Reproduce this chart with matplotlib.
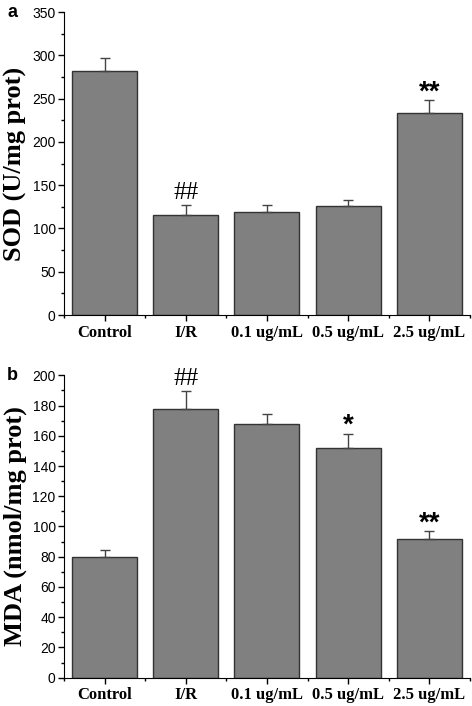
import numpy as np
import matplotlib
matplotlib.use('Agg')
import matplotlib.pyplot as plt
from matplotlib.ticker import MultipleLocator

# data
groups = ['Control', 'I/R', '0.1 ug/mL', '0.5 ug/mL', '2.5 ug/mL']
sod = [282, 115, 119, 126, 233]
sod_err = [15, 12, 7.5, 6.5, 15]
sod_marks = ['', '##', '', '', '**']
mda = [80, 177.5, 168, 152, 92]
mda_err = [4.5, 12, 6.6, 9.5, 5]
mda_marks = ['', '##', '', '*', '**']

SANS = 'Liberation Sans'
SERIF = 'Liberation Serif'

fig = plt.figure(figsize=(4.72, 7.06), dpi=100)
ax_a = fig.add_axes([0.1356, 0.5538, 0.860, 0.4292])
ax_b = fig.add_axes([0.1356, 0.0401, 0.860, 0.4283])


def panel(ax, vals, errs, marks, ymax, major, minor, ylabel, letter):
    x = np.arange(1, len(groups) + 1)
    ax.bar(x, vals, width=0.8, color='#808080', edgecolor='#333333',
           linewidth=1.0, zorder=2)
    ax.errorbar(x, vals, yerr=[np.zeros(len(errs)), errs], fmt='none',
                ecolor='#444444', elinewidth=1.0, capsize=3.5,
                capthick=1.0, zorder=3)
    for xi, v, e, m in zip(x, vals, errs, marks):
        if not m:
            continue
        if m.startswith('#'):
            ax.text(xi, v + e + ymax * 0.003, m, ha='center', va='bottom',
                    fontsize=18, family=SERIF)
        else:
            ax.text(xi, v + e - ymax * 0.018, m, ha='center', va='bottom',
                    fontsize=20, family=SANS, fontweight='bold')
    ax.set_xlim(0.5, 5.5)
    ax.set_ylim(0, ymax)
    ax.yaxis.set_major_locator(MultipleLocator(major))
    ax.yaxis.set_minor_locator(MultipleLocator(minor))
    ax.set_xticks(x)
    ax.set_xticks(np.arange(0.5, 5.6, 1.0), minor=True)
    ax.set_xticklabels(groups, family=SERIF, fontweight='bold', fontsize=12)
    for lab in ax.get_yticklabels():
        lab.set_family(SANS)
        lab.set_fontsize(10)
    ax.tick_params(axis='both', which='major', direction='out', length=4,
                   width=1, pad=2)
    ax.tick_params(axis='both', which='minor', direction='out', length=2.5,
                   width=1)
    ax.tick_params(axis='x', which='major', pad=3)
    ax.spines['top'].set_visible(False)
    ax.spines['right'].set_visible(False)
    ax.set_ylabel(ylabel, family=SERIF, fontweight='bold', fontsize=19,
                  labelpad=4)
    ax.text(-0.14, 1.0, letter, transform=ax.transAxes, ha='left',
            va='center', family=SANS, fontweight='bold', fontsize=13)


panel(ax_a, sod, sod_err, sod_marks, 350, 50, 25, 'SOD (U/mg prot)', 'a')
panel(ax_b, mda, mda_err, mda_marks, 200, 20, 10, 'MDA (nmol/mg prot)', 'b')

fig.savefig('out.png', dpi=100)
